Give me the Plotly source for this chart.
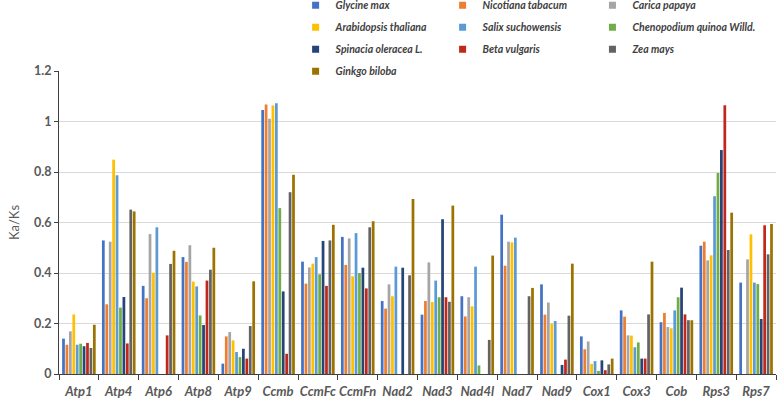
import plotly.graph_objects as go

genes = ["Atp1", "Atp4", "Atp6", "Atp8", "Atp9", "Ccmb", "CcmFc", "CcmFn", "Nad2",
         "Nad3", "Nad4l", "Nad7", "Nad9", "Cox1", "Cox3", "Cob", "Rps3", "Rps7"]

glycine_max = [0.140, 0.529, 0.349, 0.463, 0.041, 1.046, 0.445, 0.543, 0.289,
               0.235, 0.308, 0.631, 0.355, 0.149, 0.252, 0.205, 0.508, 0.362]
nicotiana_tabacum = [0.116, 0.276, 0.300, 0.444, 0.149, 1.067, 0.358, 0.432, 0.259,
                     0.289, 0.228, 0.429, 0.235, 0.098, 0.227, 0.242, 0.524, 0]
carica_papaya = [0.169, 0.524, 0.554, 0.510, 0.166, 1.011, 0.422, 0.537, 0.355,
                 0.442, 0.304, 0.524, 0.283, 0.129, 0.153, 0.186, 0.450, 0.454]
arabidopsis_thaliana = [0.236, 0.849, 0.401, 0.366, 0.133, 1.063, 0.437, 0.387, 0.308,
                        0.285, 0.268, 0.521, 0.199, 0.040, 0.152, 0.181, 0.470, 0.553]
salix_suchowensis = [0.116, 0.787, 0.581, 0.347, 0.087, 1.072, 0.463, 0.558, 0.425,
                     0.370, 0.425, 0.540, 0.210, 0.051, 0.106, 0.252, 0.704, 0.362]
chenopodium_quinoa = [0.120, 0.263, 0, 0.232, 0.067, 0.657, 0.395, 0.400, 0,
                      0.304, 0.034, 0, 0, 0.012, 0.125, 0.304, 0.796, 0.356]
spinacia_oleracea = [0.110, 0.305, 0, 0.194, 0.100, 0.327, 0.527, 0.421, 0.421,
                     0.613, 0, 0, 0.036, 0.054, 0.061, 0.342, 0.887, 0.218]
beta_vulgaris = [0.123, 0.121, 0.153, 0.370, 0.061, 0.080, 0.349, 0.339, 0,
                 0.304, 0, 0, 0.057, 0.015, 0.061, 0.236, 1.064, 0.589]
zea_mays = [0.103, 0.651, 0.436, 0.413, 0.190, 0.720, 0.529, 0.581, 0.391,
            0.286, 0.135, 0.308, 0.231, 0.038, 0.236, 0.213, 0.491, 0.474]
ginkgo_biloba = [0.195, 0.644, 0.488, 0.500, 0.367, 0.789, 0.591, 0.605, 0.693,
                 0.667, 0.469, 0.341, 0.437, 0.061, 0.445, 0.213, 0.639, 0.594]

species = ["Glycine max", "Nicotiana tabacum", "Carica papaya", "Arabidopsis thaliana",
           "Salix suchowensis", "Chenopodium quinoa Willd.", "Spinacia oleracea L.",
           "Beta vulgaris", "Zea mays", "Ginkgo biloba"]
series = [glycine_max, nicotiana_tabacum, carica_papaya, arabidopsis_thaliana,
          salix_suchowensis, chenopodium_quinoa, spinacia_oleracea, beta_vulgaris,
          zea_mays, ginkgo_biloba]
colors = ["#4472C4", "#ED7D31", "#A5A5A5", "#FFC000", "#5B9BD5", "#70AD47",
          "#264478", "#C0281C", "#636363", "#9C7300"]

y_ticks = [0, 0.2, 0.4, 0.6, 0.8, 1.0, 1.2]
y_tick_labels = ["0", "0.2", "0.4", "0.6", "0.8", "1", "1.2"]

legend_ids = ["legend", "legend2", "legend3"]
FONT = "Lato, sans-serif"

fig = go.Figure()
for name, vals, col in zip(species, series, colors):
    fig.add_trace(go.Bar(
        x=genes, y=vals, name=name, marker=dict(color=col, line=dict(width=0)),
        showlegend=False,
    ))
for i, (name, col) in enumerate(zip(species, colors)):
    fig.add_trace(go.Scatter(
        x=[None], y=[None], mode="markers", name=name,
        marker=dict(symbol="square", size=7, color=col),
        legend=legend_ids[i % 3], legendgroup=name, showlegend=True,
    ))

legend_font = dict(family=FONT, size=10.5, color="#404040", style="italic", weight="bold")
common = dict(orientation="v", traceorder="grouped", tracegroupgap=3,
              font=legend_font, bgcolor="rgba(0,0,0,0)", borderwidth=0,
              xanchor="left", yanchor="top", y=1.265)

fig.update_layout(
    width=778, height=399,
    margin=dict(l=59, r=2, t=71, b=25, autoexpand=False),
    paper_bgcolor="white", plot_bgcolor="white",
    barmode="group", bargap=0.14, bargroupgap=0.2,
    legend=dict(x=0.330, **common),
    legend2=dict(x=0.535, **common),
    legend3=dict(x=0.744, **common),
    xaxis=dict(
        type="category", range=[-0.5, len(genes) - 0.5],
        tickson="boundaries", ticks="outside", ticklen=5, tickangle=0,
        ticklabelstandoff=5,
        tickcolor="#404040", showline=True, linecolor="#404040", linewidth=1,
        showgrid=False,
        tickfont=dict(family=FONT, size=13, color="#595959", style="italic", weight="bold"),
    ),
    yaxis=dict(
        range=[0, 1.2], tickvals=y_ticks, ticktext=y_tick_labels,
        ticks="outside", ticklen=4, tickcolor="#404040",
        showline=True, linecolor="#404040", linewidth=1,
        showgrid=True, gridcolor="#D9D9D9", gridwidth=1, zeroline=False,
        tickfont=dict(family=FONT, size=12.5, color="#595959", weight="bold"),
        title=dict(text="Ka/Ks", font=dict(family=FONT, size=13, color="#595959"), standoff=11),
    ),
)

fig.write_html("out.html", config={"displayModeBar": False},
               post_script="document.body.style.margin='0';")
